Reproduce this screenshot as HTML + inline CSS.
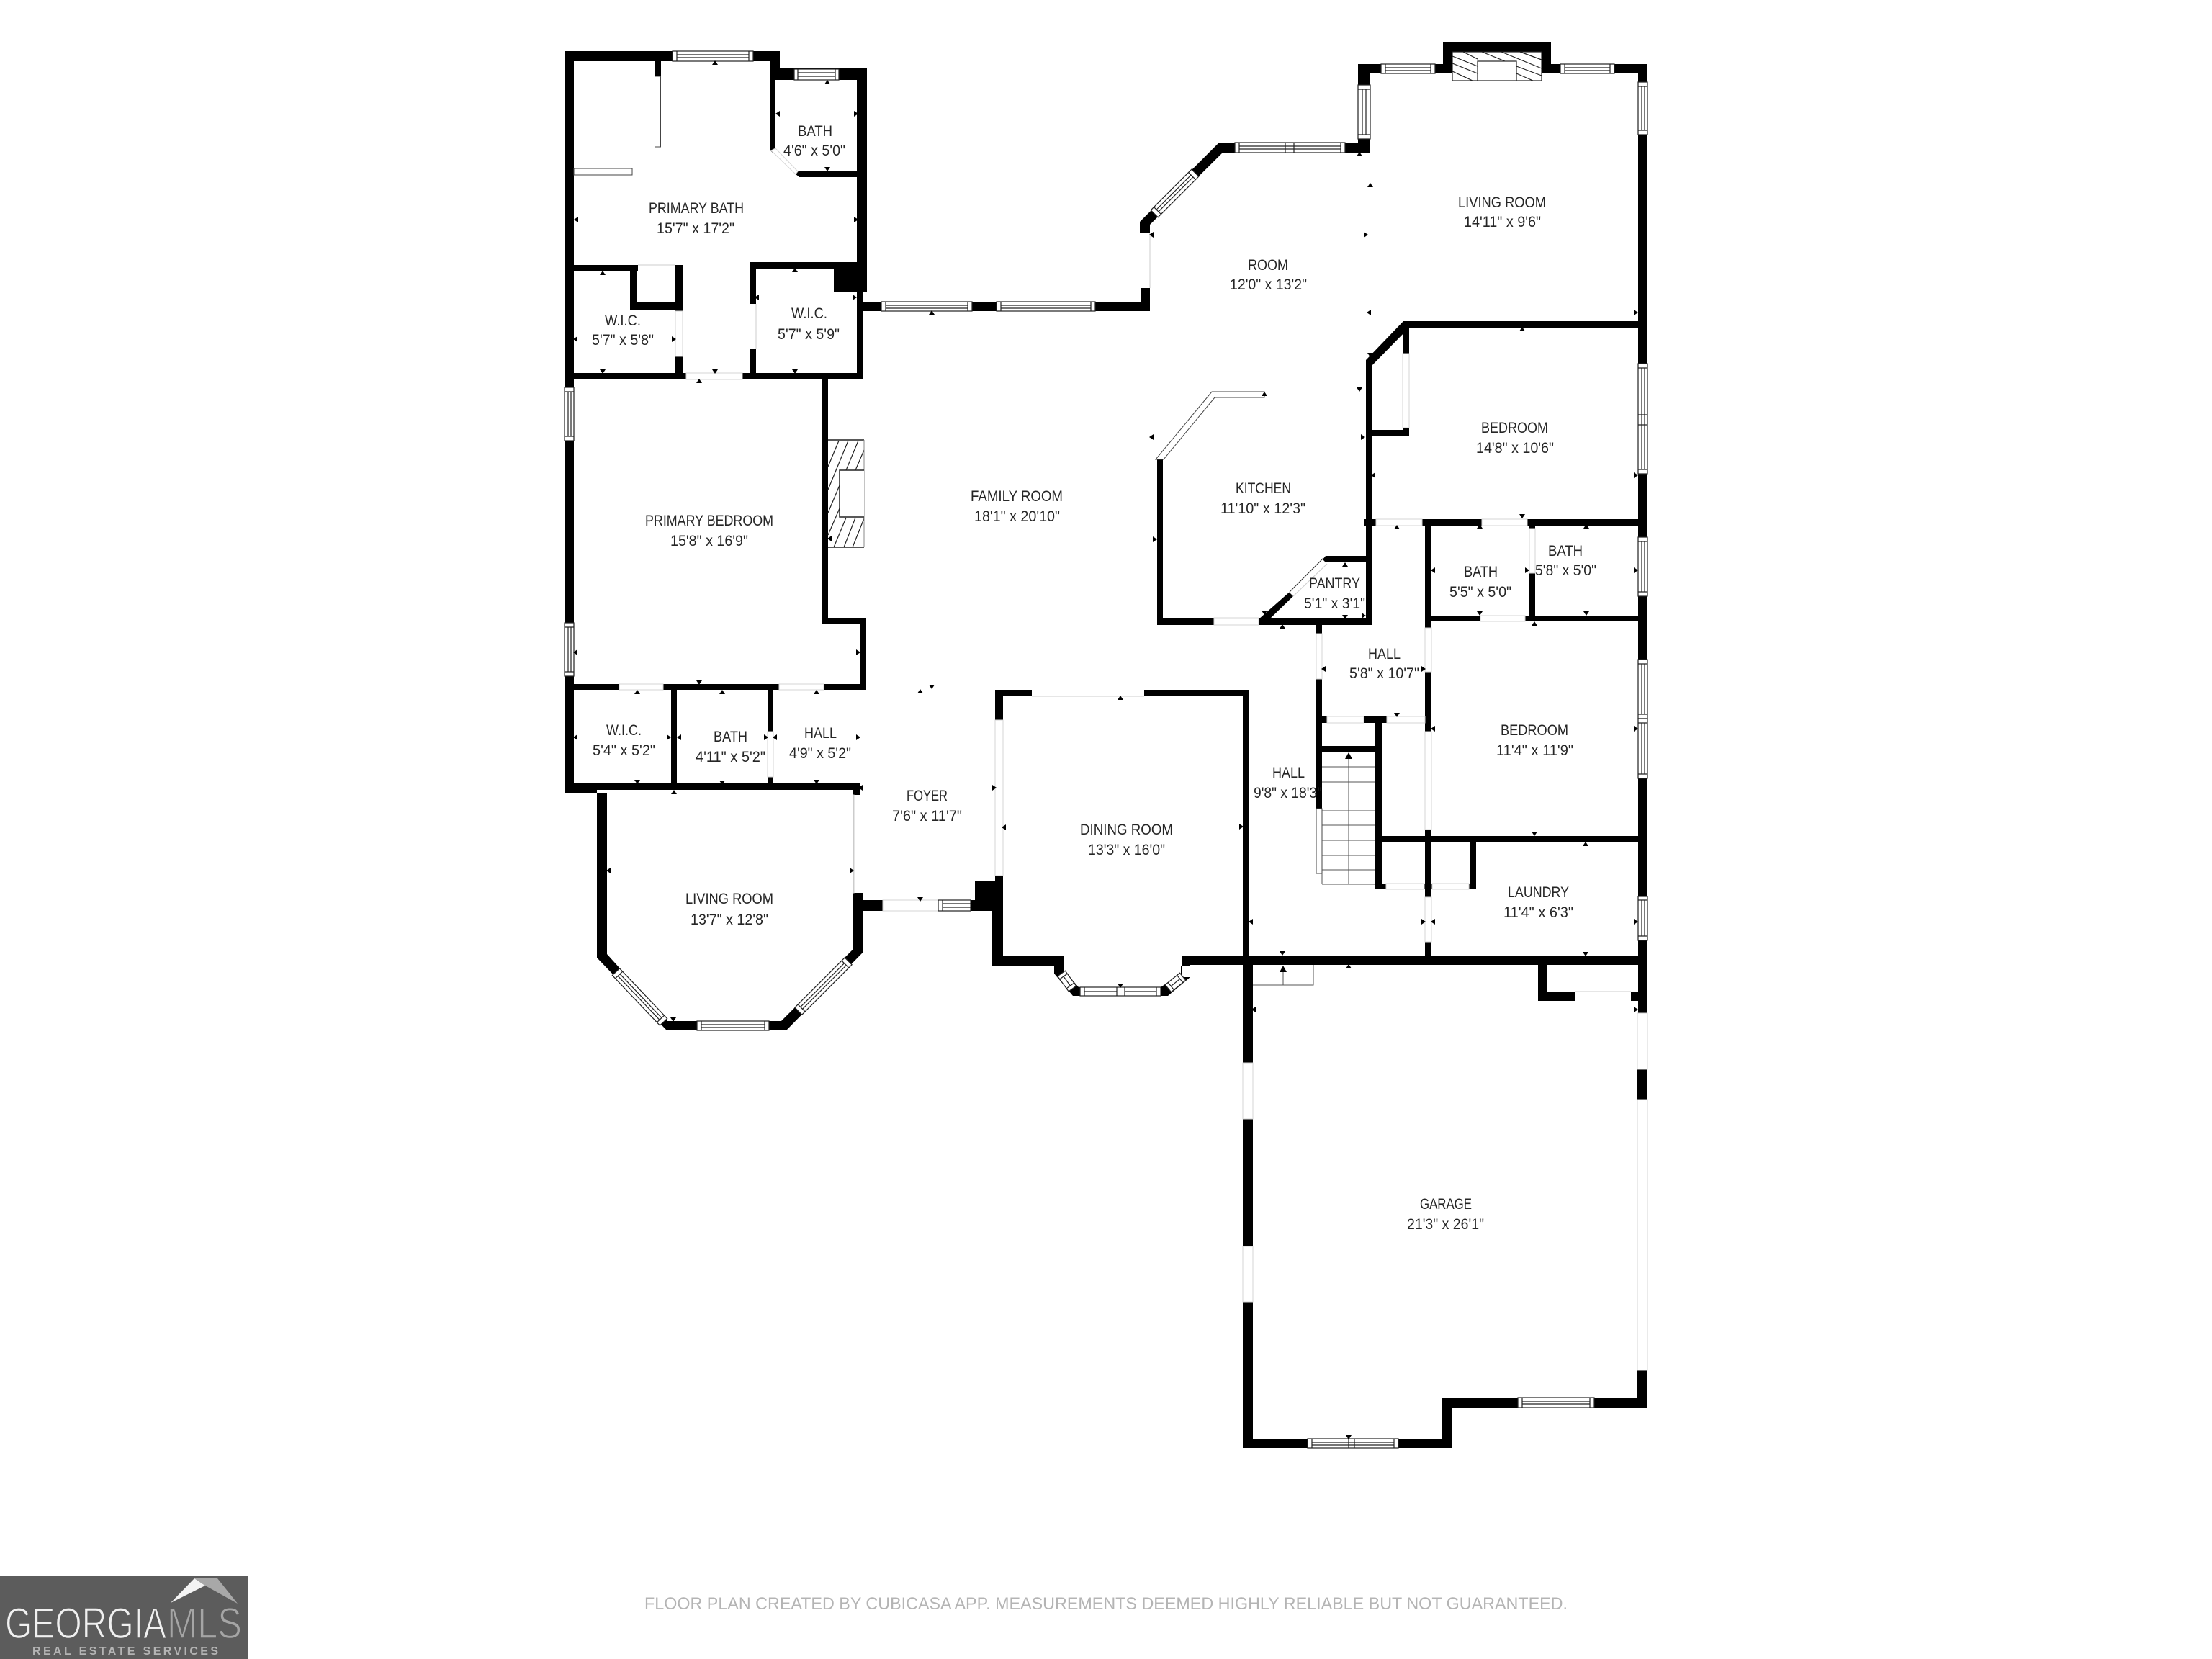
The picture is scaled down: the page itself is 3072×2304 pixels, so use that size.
<!DOCTYPE html>
<html><head><meta charset="utf-8"><title>Floor plan</title>
<style>
html,body{margin:0;padding:0;background:#fff}
svg{display:block}
text{font-family:"Liberation Sans",sans-serif}
.l text{font-size:21px;fill:#262626}
.win rect{fill:#fff;stroke:#222;stroke-width:1.2}
.win path{fill:none;stroke:#222;stroke-width:1.2}
.door{fill:#fff;stroke:#d6d6d6;stroke-width:1}
</style></head>
<body>
<svg xmlns="http://www.w3.org/2000/svg" width="3072" height="2304" viewBox="0 0 3072 2304">
<rect width="3072" height="2304" fill="#fff"/>

<!-- walls -->
<path fill="#000" d="
M784 71H1083V85H784Z M784 71H797V1101H784Z M1069 71H1083V95H1077V208L1073 212L1069 208Z
M1069 95H1204V111H1069Z M1190 95H1204V406H1190Z M1190 406H1199V527H1190Z M1107 237H1190V246H1110L1104 241Z
M909 85H918V106H909Z
M797 368H886V377H797Z M875 377H885V430H875Z M875 420H948V430H875Z M938 368H948V518H938Z
M784 518H1199V527H784Z
M1041 364H1190V373H1041Z M1041 373H1050V518H1041Z M1158 373H1204V406H1158Z
M1199 419H1597V432H1199Z M1584 400H1597V432H1584Z
M1583 324V308L1693 198H1903V212H1698L1597 312V324Z
M1886 89H1903V212H1886Z M1886 89H2004V102H1886Z M2004 58H2154V72H2004Z M2004 58H2017V102H2004Z M2141 58H2154V102H2141Z M2154 89H2288V102H2154Z
M2275 89H2288V1407H2275Z M2274 1485H2288V1527H2274Z M2274 1903H2288V1955H2274Z
M1949 446H2275V455H1949Z M1949 446H1957V455L1905 508V510H1897V500Z M1897 500H1905V868H1897Z M1948 446H1957V605H1948Z M1905 597H1957V605H1905Z
M1841 772H1897V781H1841L1837 777Z
M1607 858H1905V868H1607Z M1607 638H1615V868H1607Z
M1790.500 822.500L1796 828L1763 860H1748Z
M1895 721H1911V730H1895Z M1975 721H2275V730H1975Z M1979 721H1988V1340H1979Z M1979 855H2275V863H1979Z M2124 721H2132V863H2124Z
M1828 868H1836V1123H1828Z M1828 995H1979V1004H1828Z M1910 995H1920V1235H1910Z M1836 1036H1910V1044H1836Z
M1920 1161H2275V1169H1920Z M2041 1169H2050V1235H2041Z M1910 1227H2050V1235H1910Z
M1641 1327H2288V1340H1641Z M1641 1327H1653V1357H1641Z M1726 958H1735V1340H1726Z M1589 958H1735V967H1589Z
M1726 1340H1740V1476H1726Z M1726 1554H1740V1731H1726Z M1726 1808H1740V2011H1726Z M1726 1998H2016V2011H1726Z M2003 1941H2016V2011H2003Z M2003 1941H2288V1955H2003Z
M2136 1340H2149V1390H2136Z M2136 1377H2188V1390H2136Z M2265 1377H2288V1390H2265Z
M784 1088H1194V1097H784Z M784 1097H843V1102H784Z M1184 1089H1194V1104H1184Z M932 958H940V1090H932Z M1066 958H1074V1090H1066Z
M1142 527H1150V867H1142Z M1142 858H1202V867H1142Z M1194 858H1202V958H1194Z M797 950H1202V958H797Z
M829 1097V1330L926 1431H1092L1198 1323V1250H1185V1318L1085 1418H927L843 1325V1097Z
M1185 1240H1198V1265H1185Z M1185 1250H1226V1265H1185Z M1303 1250H1392V1265H1303Z M1354 1223H1392V1265H1354Z M1382 958H1393V1265H1382Z M1382 958H1433V967H1382Z M1378 1250H1393V1341H1378Z M1378 1327H1477V1341H1378Z
M1464 1341V1352L1490 1383H1622L1653 1357V1341H1640V1352L1612 1371H1498L1477 1347V1341Z
"/>

<!-- doors (wall openings) -->
<g class="door">
<rect x="953" y="518" width="78" height="9"/>
<rect x="886" y="367.500" width="52" height="10" stroke="none"/><path d="M886 368H938" stroke="#ccc" fill="none"/>
<rect x="938" y="432" width="10" height="63"/>
<rect x="1041" y="422" width="9" height="62" stroke="none"/><path d="M1050 422V484" fill="none" stroke="#ccc"/>
<rect x="1584" y="324" width="13" height="76" stroke="none"/><path d="M1597 324V400" fill="none" stroke="#ccc"/>
<rect x="860" y="950" width="61" height="8"/>
<rect x="1082" y="950" width="62" height="8"/>
<rect x="1066" y="1016" width="8" height="63"/>
<rect x="1185" y="1104" width="1" height="136" stroke="#ccc"/>
<rect x="1226" y="1250" width="77" height="15"/>
<rect x="1382" y="1000" width="11" height="216"/>
<rect x="1433" y="958" width="156" height="9" stroke="none"/><path d="M1433 967H1589" fill="none" stroke="#ccc"/>
<rect x="1948" y="491" width="9" height="103"/>
<rect x="1686" y="858" width="62" height="10"/>
<rect x="1911" y="721" width="64" height="9"/>
<rect x="2058" y="721" width="63" height="9"/>
<rect x="2056" y="855" width="62" height="8"/>
<rect x="2124" y="734" width="8" height="62"/>
<rect x="1828" y="880" width="8" height="63"/>
<rect x="1843" y="995" width="51" height="9"/>
<rect x="1926" y="995" width="53" height="9"/>
<rect x="1979" y="872" width="9" height="61"/>
<rect x="1979" y="1016" width="9" height="136"/>
<rect x="1979" y="1246" width="9" height="62"/>
<rect x="1925" y="1227" width="53" height="8"/>
<rect x="1989" y="1227" width="51" height="8"/>
<rect x="2188" y="1377" width="77" height="13" stroke="none"/><path d="M2188 1377H2265" fill="none" stroke="#ccc"/>
<rect x="1726" y="1476" width="14" height="78"/>
<rect x="1726" y="1731" width="14" height="77"/>
<rect x="2274" y="1407" width="14" height="78"/>
<rect x="2274" y="1527" width="14" height="376"/>
<path d="M1071 209L1105 242L1108 238L1077 206Z"/>
</g>
<path d="M1838 775L1791 822" fill="none" stroke="#333" stroke-width="1"/>
<path d="M1843 783L1796 828" fill="none" stroke="#ccc" stroke-width="1"/>

<!-- panes -->
<g fill="#fff" stroke="#444" stroke-width="1">
<rect x="909.500" y="106" width="8" height="98"/>
<rect x="797" y="234" width="81" height="9"/>
<rect x="1828" y="1123" width="8" height="90"/>
<path d="M1605 638L1683 544H1756V552H1687L1616 638Z"/>
</g>

<!-- windows -->
<g class="win">
<g><rect x="934" y="71" width="112" height="14"/><path d="M940 71V85M1040 71V85M940 76H1040M940 80H1040"/></g>
<g><rect x="1103" y="96" width="62" height="15"/><path d="M1108 96V111M1160 96V111M1108 101H1160M1108 106H1160"/></g>
<g><rect x="1224" y="419" width="126" height="13"/><path d="M1230 419V432M1344 419V432M1230 424H1344M1230 428H1344"/></g>
<g><rect x="1384" y="419" width="137" height="13"/><path d="M1390 419V432M1515 419V432M1390 424H1515M1390 428H1515"/></g>
<g><rect x="784" y="538" width="13" height="74"/><path d="M784 544H797M784 606H797M789 544V606M793 544V606"/></g>
<g><rect x="784" y="865" width="13" height="74"/><path d="M784 871H797M784 933H797M789 871V933M793 871V933"/></g>
<g><rect x="968" y="1418" width="100" height="13"/><path d="M974 1418V1431M1062 1418V1431M974 1423H1062M974 1427H1062"/></g>
<g><rect x="1303" y="1250" width="45" height="15"/><path d="M1309 1250V1265M1309 1255H1348M1309 1260H1348"/></g>
<g><rect x="1500" y="1371" width="112" height="12"/><path d="M1506 1371V1383M1606 1371V1383M1551 1371V1383M1562 1371V1383M1506 1377H1551M1562 1377H1606"/></g>
<g><rect x="1715" y="198" width="153" height="14"/><path d="M1721 198V212M1862 198V212M1785 198V212M1797 198V212M1721 203H1862M1721 207H1862"/></g>
<g><rect x="1886" y="118" width="17" height="75"/><path d="M1886 124H1903M1886 187H1903M1892 124V187M1897 124V187"/></g>
<g><rect x="1918" y="89" width="75" height="13"/><path d="M1924 89V102M1987 89V102M1924 94H1987M1924 98H1987"/></g>
<g><rect x="2167" y="89" width="75" height="13"/><path d="M2173 89V102M2236 89V102M2173 94H2236M2173 98H2236"/></g>
<g><rect x="2275" y="114" width="13" height="73"/><path d="M2275 120H2288M2275 181H2288M2280 120V181M2284 120V181"/></g>
<g><rect x="2275" y="505" width="13" height="153"/><path d="M2275 511H2288M2275 652H2288M2275 576H2288M2275 590H2288M2280 511V652M2284 511V652"/></g>
<g><rect x="2275" y="746" width="13" height="82"/><path d="M2275 752H2288M2275 822H2288M2280 752V822M2284 752V822"/></g>
<g><rect x="2275" y="916" width="13" height="82"/><path d="M2275 922H2288M2275 992H2288M2280 922V992M2284 922V992"/></g>
<g><rect x="2275" y="998" width="13" height="83"/><path d="M2275 1004H2288M2275 1075H2288M2280 1004V1075M2284 1004V1075"/></g>
<g><rect x="2275" y="1245" width="13" height="61"/><path d="M2275 1250H2288M2275 1300H2288M2280 1250V1300M2284 1250V1300"/></g>
<g><rect x="2108" y="1941" width="106" height="14"/><path d="M2114 1941V1955M2208 1941V1955M2114 1946H2208M2114 1950H2208"/></g>
<g><rect x="1816" y="1998" width="126" height="13"/><path d="M1822 1998V2011M1936 1998V2011M1873 1998V2011M1881 1998V2011M1822 2003H1936M1822 2007H1936"/></g>
<!-- diagonal windows -->
<g transform="translate(1631.500 268.500) rotate(-45)"><rect x="-40" y="-7" width="80" height="14"/><path d="M-34 -7V7M34 -7V7M-34 -2H34M-34 2H34"/></g>
<g transform="translate(888.500 1384.500) rotate(46.500)"><rect x="-48" y="-7" width="96" height="14"/><path d="M-42 -7V7M42 -7V7M-42 -2H42M-42 2H42"/></g>
<g transform="translate(1143.500 1369.500) rotate(-45)"><rect x="-49" y="-7" width="98" height="14"/><path d="M-43 -7V7M43 -7V7M-43 -2H43M-43 2H43"/></g>
<g transform="translate(1481.700 1362.500) rotate(54)"><rect x="-13" y="-6.500" width="26" height="13"/><path d="M-8 -6.500V6.500M8 -6.500V6.500M-8 0H8"/></g>
<g transform="translate(1632.500 1364.500) rotate(-39)"><rect x="-13" y="-6.500" width="26" height="13"/><path d="M-8 -6.500V6.500M8 -6.500V6.500M-8 0H8"/></g>
</g>

<!-- fireplaces -->
<rect x="1150" y="611" width="50" height="149" fill="#fff"/>
<path fill="none" stroke="#222" stroke-width="1.200" d="M1150 648L1165 612M1150 680L1178 612M1150 712L1166 674M1175 653L1192 612M1188 653L1200 625M1166 706L1150 743M1175 719L1158 760M1188 719L1172 760M1200 720L1184 760"/>
<path fill="none" stroke="#222" stroke-width="1.500" d="M1150 611H1200M1150 760H1200"/>
<path fill="none" stroke="#888" stroke-width="1" d="M1200 611V760"/>
<rect x="1166" y="653" width="34" height="65" fill="#fff"/>
<path fill="none" stroke="#222" stroke-width="1.500" d="M1200 653H1166V718H1200"/>

<rect x="2017" y="72" width="124" height="40" fill="#fff" stroke="#222" stroke-width="1.200"/>
<path fill="none" stroke="#222" stroke-width="1.200" d="M2032 72L2052 82M2017 78L2052 92M2017 88L2052 102M2017 99L2045 112M2058 72L2090 85M2085 72L2141 95M2111 72L2141 83M2106 92L2141 105M2106 102L2129 112"/>
<rect x="2052" y="85" width="54" height="27" fill="#fff" stroke="#222" stroke-width="1.200"/>

<!-- stairs -->
<g fill="none" stroke="#555" stroke-width="1">
<path d="M1836 1065H1910M1836 1086H1910M1836 1105.500H1910M1836 1126H1910M1836 1146H1910M1836 1167H1910M1836 1188H1910M1836 1208H1910M1836 1228H1910M1836 1213V1228M1873 1050V1228"/>
<path d="M1740 1368H1824V1340M1782 1345V1368"/>
</g>
<path d="M1873 1045L1878 1054H1868Z M1782 1341L1787 1350H1777Z" fill="#000"/>

<!-- ticks -->
<path fill="#000" d="
M989 90h8l-4 -6z M1145 117h8l-4 -6z M1100 378h8l-4 -6z M833 382h8l-4 -6z M967 532h8l-4 -6z M1290 437h8l-4 -6z
M1884 217h8l-4 -6z M1899 260h8l-4 -6z M2110 460h8l-4 -6z M1752 550h8l-4 -6z M1936 735h8l-4 -6z M2051 734h8l-4 -6z M2199 734h8l-4 -6z
M1864 787h8l-4 -6z M1777 873h8l-4 -6z M2127 869h8l-4 -6z M2198 1175h8l-4 -6z M1869 1345h8l-4 -6z
M881 964h8l-4 -6z M999 964h8l-4 -6z M1130 964h8l-4 -6z M932 1103h8l-4 -6z M1274 963h8l-4 -6z M1552 972h8l-4 -6z
M1145 232h8l-4 6z M833 513h8l-4 6z M1100 513h8l-4 6z M989 513h8l-4 6z M1884 538h8l-4 6z M1899 490h8l-4 6z M2110 714h8l-4 6z
M1864 854h8l-4 6z M1752 848h8l-4 6z M2051 849h8l-4 6z M2199 849h8l-4 6z M1936 990h8l-4 6z M2127 1155h8l-4 6z M1777 1321h8l-4 6z M2198 1322h8l-4 6z
M967 945h8l-4 6z M881 1083h8l-4 6z M999 1084h8l-4 6z M1130 1083h8l-4 6z M931 1413h8l-4 6z M1274 1246h8l-4 6z M1290 951h8l-4 6z M1552 1366h8l-4 6z M1869 1993h8l-4 6z
M1083 154v8l-6 -4z M803 301v8l-6 -4z M802 467v8l-6 -4z M1054 409v8l-6 -4z M1602 322v8l-6 -4z M1602 603v8l-6 -4z M1904 430v8l-6 -4z
M1910 656v8l-6 -4z M1993 788v8l-6 -4z M1841 925v8l-6 -4z M1993 1008v8l-6 -4z M1740 1276v8l-6 -4z M1993 1276v8l-6 -4z M1744 1398v8l-6 -4z
M1155 744v8l-6 -4z M802 902v8l-6 -4z M802 1020v8l-6 -4z M946 1020v8l-6 -4z M1079 1020v8l-6 -4z M1198 1090v8l-6 -4z M1397 1145v8l-6 -4z M848 1205v8l-6 -4z
M1186 154v8l6 -4z M1186 301v8l6 -4z M933 467v8l6 -4z M1184 409v8l6 -4z M1894 322v8l6 -4z M2269 430v8l6 -4z M1890 603v8l6 -4z M2269 656v8l6 -4z
M1601 745v8l6 -4z M1891 851v8l6 -4z M2118 788v8l6 -4z M2269 788v8l6 -4z M1974 925v8l6 -4z M2269 1008v8l6 -4z M1974 1276v8l6 -4z M2269 1276v8l6 -4z M2269 1398v8l6 -4z M1721 1144v8l6 -4z
M1189 902v8l6 -4z M926 1020v8l6 -4z M1061 1020v8l6 -4z M1189 1020v8l6 -4z M1378 1090v8l6 -4z M1180 1205v8l6 -4z
"/>

<!-- labels -->
<g class="l" transform="translate(0 -1)">
<text x="901" y="297" textLength="132" lengthAdjust="spacingAndGlyphs">PRIMARY BATH</text>
<text x="912" y="325" textLength="108" lengthAdjust="spacingAndGlyphs">15'7" x 17'2"</text>
<text x="1108" y="190" textLength="48" lengthAdjust="spacingAndGlyphs">BATH</text>
<text x="1088" y="217" textLength="86" lengthAdjust="spacingAndGlyphs">4'6" x 5'0"</text>
<text x="840" y="453" textLength="50" lengthAdjust="spacingAndGlyphs">W.I.C.</text>
<text x="822" y="480" textLength="86" lengthAdjust="spacingAndGlyphs">5'7" x 5'8"</text>
<text x="1099" y="443" textLength="50" lengthAdjust="spacingAndGlyphs">W.I.C.</text>
<text x="1080" y="472" textLength="86" lengthAdjust="spacingAndGlyphs">5'7" x 5'9"</text>
<text x="1348" y="697" textLength="128" lengthAdjust="spacingAndGlyphs">FAMILY ROOM</text>
<text x="1353" y="725" textLength="119" lengthAdjust="spacingAndGlyphs">18'1" x 20'10"</text>
<text x="896" y="731" textLength="178" lengthAdjust="spacingAndGlyphs">PRIMARY BEDROOM</text>
<text x="931" y="759" textLength="108" lengthAdjust="spacingAndGlyphs">15'8" x 16'9"</text>
<text x="842" y="1022" textLength="49" lengthAdjust="spacingAndGlyphs">W.I.C.</text>
<text x="823" y="1050" textLength="87" lengthAdjust="spacingAndGlyphs">5'4" x 5'2"</text>
<text x="991" y="1031" textLength="47" lengthAdjust="spacingAndGlyphs">BATH</text>
<text x="966" y="1059" textLength="97" lengthAdjust="spacingAndGlyphs">4'11" x 5'2"</text>
<text x="1117" y="1026" textLength="45" lengthAdjust="spacingAndGlyphs">HALL</text>
<text x="1096" y="1054" textLength="86" lengthAdjust="spacingAndGlyphs">4'9" x 5'2"</text>
<text x="1259" y="1113" textLength="57" lengthAdjust="spacingAndGlyphs">FOYER</text>
<text x="1239" y="1141" textLength="97" lengthAdjust="spacingAndGlyphs">7'6" x 11'7"</text>
<text x="952" y="1256" textLength="122" lengthAdjust="spacingAndGlyphs">LIVING ROOM</text>
<text x="959" y="1285" textLength="108" lengthAdjust="spacingAndGlyphs">13'7" x 12'8"</text>
<text x="1500" y="1160" textLength="129" lengthAdjust="spacingAndGlyphs">DINING ROOM</text>
<text x="1511" y="1188" textLength="107" lengthAdjust="spacingAndGlyphs">13'3" x 16'0"</text>
<text x="2025" y="289" textLength="122" lengthAdjust="spacingAndGlyphs">LIVING ROOM</text>
<text x="2033" y="316" textLength="107" lengthAdjust="spacingAndGlyphs">14'11" x 9'6"</text>
<text x="1733" y="376" textLength="56" lengthAdjust="spacingAndGlyphs">ROOM</text>
<text x="1708" y="403" textLength="107" lengthAdjust="spacingAndGlyphs">12'0" x 13'2"</text>
<text x="2057" y="602" textLength="93" lengthAdjust="spacingAndGlyphs">BEDROOM</text>
<text x="2050" y="630" textLength="108" lengthAdjust="spacingAndGlyphs">14'8" x 10'6"</text>
<text x="1716" y="686" textLength="77" lengthAdjust="spacingAndGlyphs">KITCHEN</text>
<text x="1695" y="714" textLength="118" lengthAdjust="spacingAndGlyphs">11'10" x 12'3"</text>
<text x="1818" y="818" textLength="71" lengthAdjust="spacingAndGlyphs">PANTRY</text>
<text x="1811" y="846" textLength="85" lengthAdjust="spacingAndGlyphs">5'1" x 3'1"</text>
<text x="2033" y="802" textLength="47" lengthAdjust="spacingAndGlyphs">BATH</text>
<text x="2013" y="830" textLength="86" lengthAdjust="spacingAndGlyphs">5'5" x 5'0"</text>
<text x="2150" y="773" textLength="48" lengthAdjust="spacingAndGlyphs">BATH</text>
<text x="2132" y="800" textLength="85" lengthAdjust="spacingAndGlyphs">5'8" x 5'0"</text>
<text x="1900" y="916" textLength="45" lengthAdjust="spacingAndGlyphs">HALL</text>
<text x="1874" y="943" textLength="97" lengthAdjust="spacingAndGlyphs">5'8" x 10'7"</text>
<text x="2084" y="1022" textLength="94" lengthAdjust="spacingAndGlyphs">BEDROOM</text>
<text x="2078" y="1050" textLength="107" lengthAdjust="spacingAndGlyphs">11'4" x 11'9"</text>
<text x="1767" y="1081" textLength="45" lengthAdjust="spacingAndGlyphs">HALL</text>
<text x="1741" y="1109" textLength="95" lengthAdjust="spacingAndGlyphs">9'8" x 18'3"</text>
<text x="2094" y="1247" textLength="85" lengthAdjust="spacingAndGlyphs">LAUNDRY</text>
<text x="2088" y="1275" textLength="97" lengthAdjust="spacingAndGlyphs">11'4" x 6'3"</text>
<text x="1972" y="1680" textLength="72" lengthAdjust="spacingAndGlyphs">GARAGE</text>
<text x="1954" y="1708" textLength="107" lengthAdjust="spacingAndGlyphs">21'3" x 26'1"</text>
</g>

<!-- footer -->
<text x="895" y="2235" font-size="24" fill="#b4b4b4" textLength="1282" lengthAdjust="spacingAndGlyphs">FLOOR PLAN CREATED BY CUBICASA APP. MEASUREMENTS DEEMED HIGHLY RELIABLE BUT NOT GUARANTEED.</text>

<!-- logo -->
<rect x="0" y="2189" width="345" height="115" fill="#5c5c5c"/>
<path d="M237 2226L270 2192L285 2202Z" fill="#f4f4f4"/>
<path d="M270 2192H302L330 2227L285 2202Z" fill="#a8a8a8"/>
<text x="7" y="2275" font-size="60" fill="#f0f0f0" stroke="#5c5c5c" stroke-width="1.500" textLength="224" lengthAdjust="spacingAndGlyphs">GEORGIA</text>
<text x="232" y="2275" font-size="60" fill="#a5a5a5" stroke="#5c5c5c" stroke-width="1.500" textLength="104" lengthAdjust="spacingAndGlyphs">MLS</text>
<text x="45" y="2298" font-size="16" font-weight="bold" fill="#b4b4b4" textLength="258" lengthAdjust="spacing">REAL ESTATE SERVICES</text>
</svg>
</body></html>
